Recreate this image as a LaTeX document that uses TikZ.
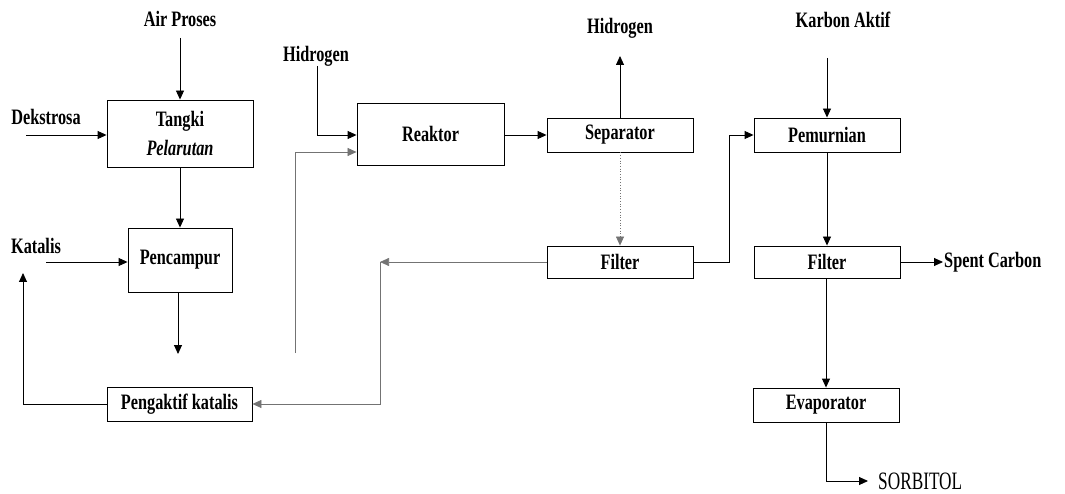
\documentclass[tikz,border=0pt]{standalone}
\usepackage{fontspec}
\setmainfont{Liberation Serif}[FakeStretch=0.74]
\newfontfamily\sorbfont{Liberation Serif}[FakeStretch=0.69]
\usetikzlibrary{arrows.meta,calc}
\tikzset{
  box/.style={draw, line width=0.9pt, minimum width=146pt, minimum height=34pt, inner sep=0pt, align=center, font=\fontsize{22}{29}\selectfont\bfseries},
  lbl/.style={inner sep=2pt, font=\fontsize{22}{29}\selectfont\bfseries},
  arr/.style={line width=0.9pt, -{Triangle[length=9pt,width=8pt]}},
  faint/.style={line width=0.7pt, black!55, -{Triangle[length=9pt,width=8pt]}},
}
\begin{document}
\begin{tikzpicture}[x=1pt,y=-1pt]
\useasboundingbox (0,0) rectangle (1065,494);
% process boxes
\node[box, minimum height=67pt] (tangki) at (180,133.5) {Tangki\\\textit{Pelarutan}};
\node[box, minimum width=104pt, minimum height=64pt] (pencampur) at (180,260) {Pencampur};
\node[box, minimum width=145pt] (pengaktif) at (179.5,404) {Pengaktif katalis};
\node[box, minimum width=147pt, minimum height=62pt] (reaktor) at (430.5,134) {Reaktor};
\node[box] (separator) at (620,135) {Separator};
\node[box, minimum height=32pt] (filterA) at (620,262) {Filter};
\node[box] (pemurnian) at (827,135) {Pemurnian};
\node[box, minimum height=32pt] (filterB) at (827,262) {Filter};
\node[box] (evaporator) at (826,405) {Evaporator};
% labels
\node[lbl, anchor=base] (air) at (180,27) {Air Proses};
\node[lbl, anchor=base] (dekstrosa) at (46,125) {Dekstrosa};
\node[lbl, anchor=base] (katalis) at (36,254) {Katalis};
\node[lbl, anchor=base] (hidA) at (316,62) {Hidrogen};
\node[lbl, anchor=base] (hidB) at (620,34) {Hidrogen};
\node[lbl, anchor=base] (karbon) at (843,28) {Karbon Aktif};
\node[lbl, anchor=west, inner sep=1pt] (spent) at (943,262) {Spent Carbon};
\node[anchor=west, inner sep=0pt, font=\fontsize{25}{29}\selectfont\sorbfont] (sorbitol) at (878,481) {SORBITOL};
% free ends
\coordinate (dk) at (26,135);
\coordinate (kt) at (46,262);
\coordinate (kup) at (23,273);
\coordinate (pcend) at (178,354);
\coordinate (hA) at (317,66);
\coordinate (rec) at (295,353);
\coordinate (fcorner) at (380,262);
\coordinate (fturn) at (729,262);
\coordinate (kb) at (827,58);
\coordinate (ap) at (180,38);
% connectors
\draw[arr] (ap) -- (tangki.north);
\draw[arr] (dk) -- (tangki.west |- dk);
\draw[arr] (kt) -- (pencampur.west |- kt);
\draw[arr] (tangki.south) -- (pencampur.north);
\draw[arr] (pencampur.south -| pcend) -- (pcend);
\draw[arr] (pengaktif.west) -| (kup);
\draw[arr] (hA) |- (reaktor.west |- 0,135);
\draw[faint] (rec) |- (reaktor.west |- 0,152);
\draw[arr] (reaktor.east |- separator) -- (separator.west);
\draw[arr] (separator.north) -- ($(hidB.base)+(0,22)$);
\draw[faint, dotted] (separator.south) -- (filterA.north);
\draw[faint] (filterA.west) -- (fcorner);
\draw[faint] (fcorner) |- (pengaktif.east);
\draw[arr] (filterA.east) -- (fturn) |- (pemurnian.west);
\draw[arr] (kb) -- (pemurnian.north);
\draw[arr] (pemurnian.south) -- (filterB.north);
\draw[arr] (filterB.east) -- (spent.west);
\draw[arr] (filterB.south -| evaporator.north) -- (evaporator.north);
\draw[arr, shorten >=10pt] (evaporator.south) |- (sorbitol.west);
\end{tikzpicture}
\end{document}
